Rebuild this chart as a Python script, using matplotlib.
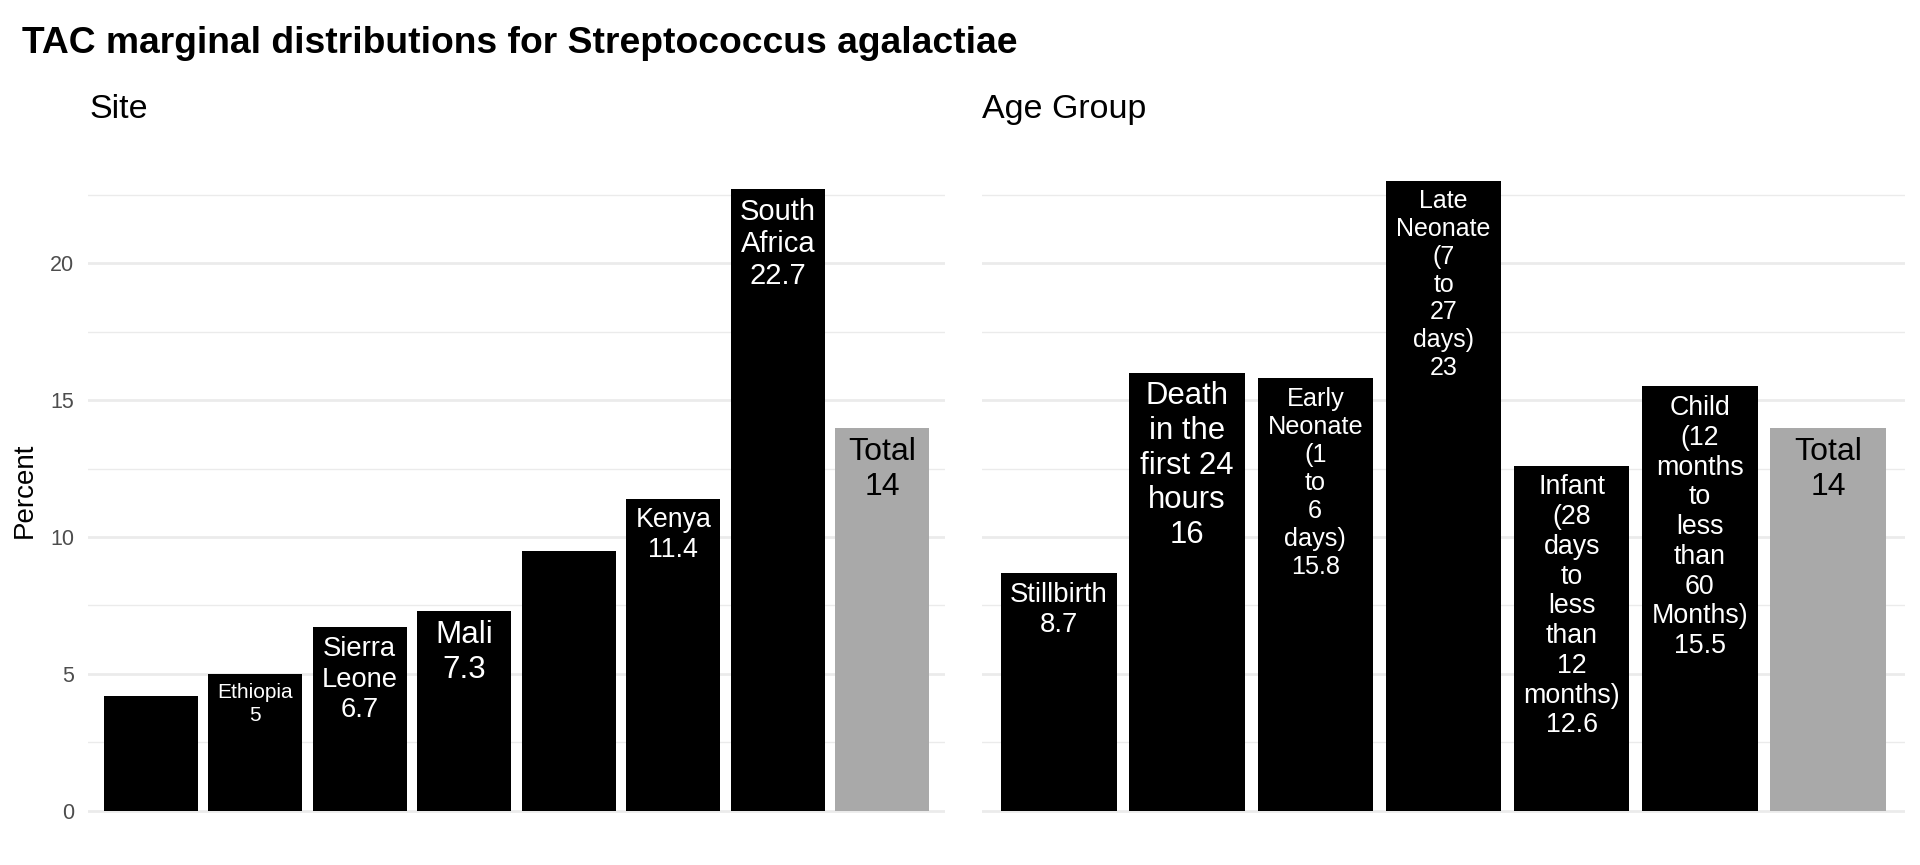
import matplotlib.pyplot as plt
from matplotlib.ticker import MultipleLocator

plt.rcParams['font.family'] = ['Liberation Sans', 'DejaVu Sans']

# ---- data ----
sites = ["Bangladesh", "Ethiopia", "Sierra Leone", "Mali", "Mozambique",
         "Kenya", "South Africa", "Total"]
site_pct = [4.2, 5.0, 6.7, 7.3, 9.5, 11.4, 22.7, 14.0]
# wrapped text as printed inside the bars (None = label did not fit)
site_text = [None, "Ethiopia", "Sierra\nLeone", "Mali", None,
             "Kenya", "South\nAfrica", "Total"]

age_groups = ["Stillbirth", "Death in the first 24 hours",
              "Early Neonate (1 to 6 days)", "Late Neonate (7 to 27 days)",
              "Infant (28 days to less than 12 months)",
              "Child (12 months to less than 60 Months)", "Total"]
age_pct = [8.7, 16.0, 15.8, 23.0, 12.6, 15.5, 14.0]
age_text = ["Stillbirth", "Death\nin the\nfirst 24\nhours",
            "Early\nNeonate\n(1\nto\n6\ndays)",
            "Late\nNeonate\n(7\nto\n27\ndays)",
            "Infant\n(28\ndays\nto\nless\nthan\n12\nmonths)",
            "Child\n(12\nmonths\nto\nless\nthan\n60\nMonths)",
            "Total"]

# label font sizes (text shrunk to fit the bars)
site_sizes = [0, 15, 19.7, 22.6, 0, 19.3, 21, 23]
age_sizes = [19.8, 22.4, 18.2, 18, 19.3, 19.3, 23]

W, H = 1920, 865
fig = plt.figure(figsize=(W / 100, H / 100), dpi=100)

y_lo, y_hi = -1.15, 24.15
pan_bottom = 1 - 842.2 / H
pan_height = (842.2 - 149.7) / H
PX = 100 / 72  # pixels per point


def panel(rect, text, values, sizes, show_y):
    ax = fig.add_axes(rect)
    n = len(values)
    x = list(range(n))
    colors = ['black'] * (n - 1) + ['darkgray']
    ax.bar(x, values, width=0.9, color=colors, zorder=2)
    for i in x:
        if text[i] is None:
            continue
        lines = text[i].split("\n") + [f"{values[i]:g}"]
        col = 'black' if i == n - 1 else 'white'
        fs = sizes[i] * PX
        # one text per line so that every line has the same spacing
        for j, line in enumerate(lines):
            off = 9 + 0.73 * fs + j * 1.11 * fs
            ax.annotate(line, xy=(i, values[i]), xytext=(0, -off),
                        textcoords='offset pixels', ha='center',
                        va='baseline', fontsize=sizes[i], color=col,
                        zorder=3)
    ax.set_xlim(-0.6, n - 0.4)
    ax.set_ylim(y_lo, y_hi)
    ax.yaxis.set_major_locator(MultipleLocator(5))
    ax.yaxis.set_minor_locator(MultipleLocator(2.5))
    ax.grid(axis='y', which='major', color='#EBEBEB', lw=2.0, zorder=0)
    ax.grid(axis='y', which='minor', color='#EBEBEB', lw=1.0, zorder=0)
    ax.set_xticks([])
    ax.tick_params(axis='y', which='both', length=0, pad=10,
                   labelsize=15.5, labelcolor='#4D4D4D')
    if not show_y:
        ax.tick_params(axis='y', labelleft=False)
    for s in ax.spines.values():
        s.set_visible(False)
    return ax


ax1 = panel([88 / W, pan_bottom, 857 / W, pan_height],
            site_text, site_pct, site_sizes, True)
ax2 = panel([982 / W, pan_bottom, 923 / W, pan_height],
            age_text, age_pct, age_sizes, False)

fig.text(22 / W, 1 - 53 / H,
         "TAC marginal distributions for Streptococcus agalactiae",
         fontsize=26.8, fontweight='bold', ha='left', va='baseline')
fig.text(89 / W, 1 - 118 / H, "Site", fontsize=24.5, ha='left', va='baseline')
fig.text(982 / W, 1 - 118 / H, "Age Group", fontsize=24.5, ha='left',
         va='baseline')
fig.text(25 / W, 1 - 490 / H, "Percent", fontsize=20, rotation=90,
         ha='center', va='center')

fig.savefig("out.png", dpi=100, facecolor='white')
